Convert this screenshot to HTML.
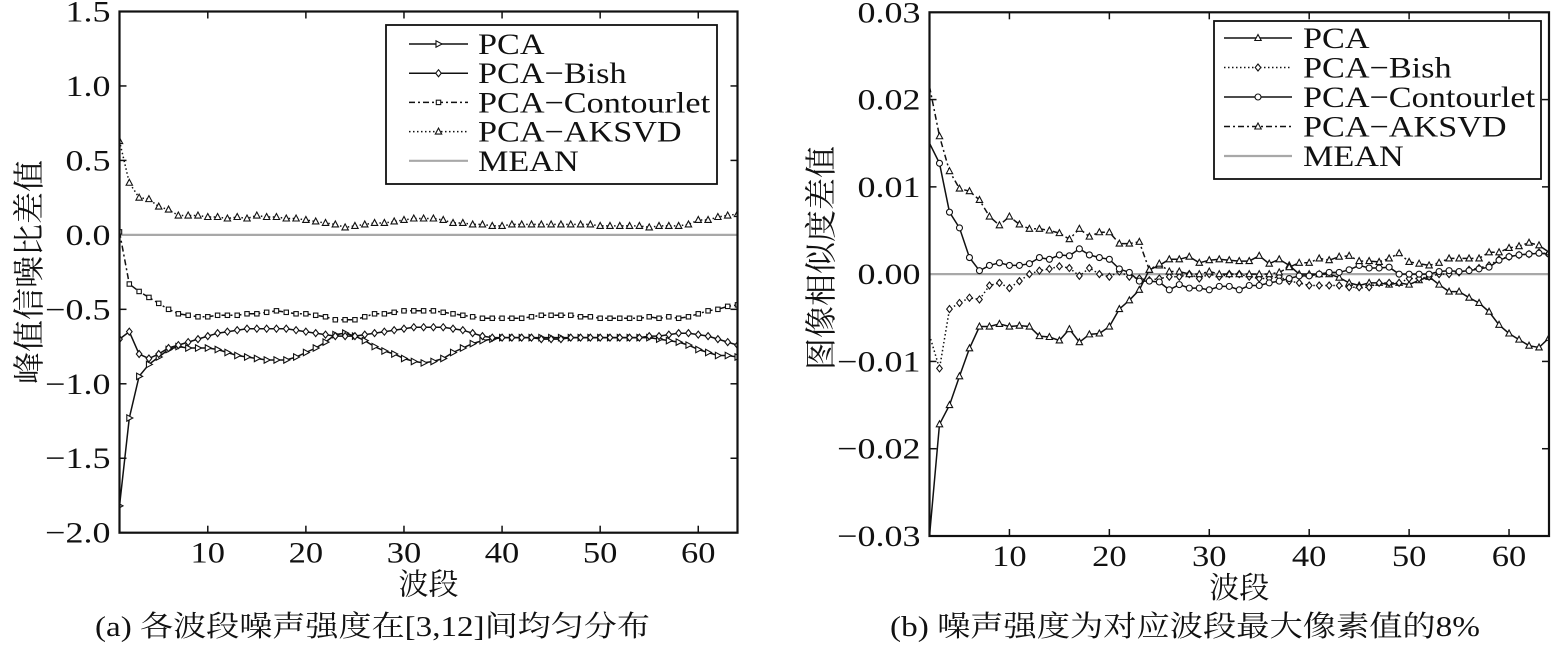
<!DOCTYPE html>
<html><head><meta charset="utf-8">
<style>
html,body{margin:0;padding:0;background:#fff;}
svg{display:block;}
text{font-family:"Liberation Serif","Noto Serif CJK SC",serif;fill:#111;}
</style></head>
<body>
<svg id="fig" width="1551" height="645" viewBox="0 0 1551 645" xmlns="http://www.w3.org/2000/svg"></svg>
<script>
// ---------- Chart (a) data ----------
const bandStartA = 1;
const yTicksA = [1.5, 1.0, 0.5, 0.0, -0.5, -1.0, -1.5, -2.0];
const yTickLabelsA = ["1.5","1.0","0.5","0.0","\u22120.5","\u22121.0","\u22121.5","\u22122.0"];
const xTicksA = [10,20,30,40,50,60];
const pcaA = [-1.82,-1.23,-0.95,-0.87,-0.82,-0.77,-0.75,-0.76,-0.76,-0.76,-0.77,-0.79,-0.81,-0.82,-0.83,-0.84,-0.84,-0.84,-0.82,-0.79,-0.76,-0.72,-0.67,-0.66,-0.68,-0.71,-0.75,-0.78,-0.80,-0.83,-0.85,-0.86,-0.85,-0.83,-0.79,-0.76,-0.73,-0.71,-0.70,-0.69,-0.69,-0.69,-0.69,-0.69,-0.69,-0.69,-0.69,-0.69,-0.69,-0.69,-0.69,-0.69,-0.69,-0.69,-0.69,-0.70,-0.71,-0.72,-0.74,-0.77,-0.79,-0.81,-0.81,-0.82];
const bishA = [-0.70,-0.65,-0.80,-0.83,-0.80,-0.76,-0.74,-0.72,-0.70,-0.68,-0.66,-0.65,-0.64,-0.63,-0.63,-0.63,-0.63,-0.63,-0.64,-0.65,-0.66,-0.67,-0.68,-0.68,-0.68,-0.67,-0.66,-0.65,-0.64,-0.63,-0.62,-0.62,-0.62,-0.62,-0.63,-0.64,-0.66,-0.68,-0.69,-0.69,-0.69,-0.69,-0.69,-0.70,-0.70,-0.70,-0.69,-0.69,-0.69,-0.69,-0.69,-0.69,-0.69,-0.69,-0.68,-0.68,-0.67,-0.66,-0.66,-0.67,-0.68,-0.70,-0.72,-0.74];
const contA = [0.02,-0.33,-0.38,-0.42,-0.46,-0.50,-0.53,-0.54,-0.55,-0.55,-0.54,-0.54,-0.54,-0.53,-0.53,-0.52,-0.51,-0.52,-0.53,-0.53,-0.54,-0.55,-0.57,-0.57,-0.57,-0.55,-0.53,-0.53,-0.52,-0.51,-0.51,-0.51,-0.51,-0.52,-0.53,-0.54,-0.55,-0.56,-0.56,-0.56,-0.56,-0.56,-0.55,-0.54,-0.54,-0.54,-0.54,-0.55,-0.55,-0.56,-0.56,-0.56,-0.56,-0.56,-0.55,-0.56,-0.55,-0.56,-0.55,-0.53,-0.51,-0.50,-0.48,-0.47];
const aksvdA = [0.63,0.35,0.25,0.24,0.19,0.17,0.13,0.13,0.13,0.12,0.12,0.11,0.12,0.11,0.13,0.12,0.12,0.11,0.11,0.10,0.09,0.08,0.07,0.05,0.06,0.07,0.08,0.08,0.09,0.10,0.11,0.11,0.11,0.10,0.08,0.08,0.07,0.07,0.06,0.06,0.07,0.07,0.07,0.07,0.07,0.07,0.07,0.07,0.07,0.06,0.06,0.06,0.06,0.06,0.05,0.06,0.06,0.06,0.07,0.10,0.10,0.12,0.13,0.14];
const meanA = 0.0;

// ---------- Chart (b) data ----------
const bandStartB = 2;
const yTicksB = [0.03,0.02,0.01,0.0,-0.01,-0.02,-0.03];
const yTickLabelsB = ["0.03","0.02","0.01","0.00","\u22120.01","\u22120.02","\u22120.03"];
const xTicksB = [10,20,30,40,50,60];
const pcaB = [-0.030,-0.0172,-0.0150,-0.0117,-0.0085,-0.0060,-0.0060,-0.0057,-0.0060,-0.0059,-0.0060,-0.0071,-0.0072,-0.0076,-0.0063,-0.0078,-0.0069,-0.0068,-0.0060,-0.0040,-0.0030,-0.0018,0.0005,0.0010,0.0017,0.0017,0.0020,0.0013,0.0016,0.0017,0.0016,0.0015,0.0015,0.0021,0.0012,0.0017,0.0010,0.0000,0.0000,0.0000,0.0000,-0.0004,-0.0010,-0.0013,-0.0010,-0.0010,-0.0012,-0.0010,-0.0012,-0.0007,-0.0003,-0.0012,-0.0020,-0.0020,-0.0027,-0.0033,-0.0043,-0.0058,-0.0068,-0.0075,-0.0082,-0.0084,-0.0073];
const bishB = [-0.0070,-0.0108,-0.0040,-0.0033,-0.0027,-0.0029,-0.0013,-0.0010,-0.0016,-0.0008,0.0000,0.0004,0.0006,0.0009,0.0007,-0.0002,0.0007,0.0000,-0.0003,0.0003,-0.0003,-0.0005,-0.0007,-0.0005,-0.0003,-0.0003,0.0000,-0.0005,0.0000,-0.0003,0.0000,0.0000,-0.0003,-0.0005,-0.0005,-0.0003,-0.0008,-0.0010,-0.0013,-0.0013,-0.0013,-0.0013,-0.0015,-0.0015,-0.0015,-0.0010,-0.0010,-0.0010,-0.0005,-0.0005,-0.0003,0.0000,0.0000,0.0002,0.0005,0.0007,0.0010,0.0017,0.0020,0.0022,0.0023,0.0025,0.0023];
const contB = [0.0150,0.0127,0.0071,0.0053,0.0019,0.0004,0.0010,0.0013,0.0010,0.0010,0.0012,0.0019,0.0017,0.0022,0.0021,0.0029,0.0022,0.0019,0.0017,0.0006,0.0002,-0.0008,-0.0008,-0.0009,-0.0018,-0.0012,-0.0016,-0.0016,-0.0018,-0.0014,-0.0014,-0.0018,-0.0013,-0.0013,-0.0010,-0.0008,-0.0005,-0.0002,-0.0002,0.0000,0.0002,0.0002,0.0005,0.0010,0.0007,0.0007,0.0008,0.0000,0.0000,0.0000,0.0000,0.0003,0.0004,0.0003,0.0004,0.0006,0.0008,0.0016,0.0020,0.0022,0.0023,0.0024,0.0023];
const aksvdB = [0.0215,0.0158,0.0118,0.0098,0.0095,0.0085,0.0066,0.0056,0.0066,0.0057,0.0052,0.0052,0.0050,0.0047,0.0040,0.0052,0.0043,0.0048,0.0048,0.0035,0.0035,0.0037,0.0005,0.0012,0.0003,0.0003,0.0000,0.0000,0.0003,0.0000,0.0000,0.0000,0.0000,0.0000,0.0000,0.0002,0.0008,0.0013,0.0013,0.0018,0.0016,0.0020,0.0021,0.0015,0.0015,0.0014,0.0018,0.0024,0.0014,0.0012,0.0010,0.0013,0.0018,0.0018,0.0018,0.0018,0.0025,0.0025,0.0030,0.0032,0.0036,0.0033,0.0025];
const meanB = 0.0;

const NS = "http://www.w3.org/2000/svg";
const svg = document.getElementById('fig');
function mk(tag, attrs, parent){
  const e = document.createElementNS(NS, tag);
  for (const k in attrs) e.setAttribute(k, attrs[k]);
  (parent||svg).appendChild(e);
  return e;
}
function stretch(t, f){
  const w = t.getComputedTextLength();
  if (w > 0){
    t.setAttribute('textLength', (w*f).toFixed(1));
    t.setAttribute('lengthAdjust', 'spacingAndGlyphs');
  }
}

function marker(g, type, x, y){
  let m;
  const st = {fill:'#fff', stroke:'#111', 'stroke-width':1.1};
  if (type==='tri') m = mk('polygon', Object.assign({points:`${x},${y-3.5} ${x-3.2},${y+2.5} ${x+3.2},${y+2.5}`}, st), g);
  else if (type==='rtri') m = mk('polygon', Object.assign({points:`${x+3.5},${y} ${x-2.5},${y-3.2} ${x-2.5},${y+3.2}`}, st), g);
  else if (type==='dia') m = mk('polygon', Object.assign({points:`${x},${y-3.5} ${x+2.8},${y} ${x},${y+3.5} ${x-2.8},${y}`}, st), g);
  else if (type==='sq') m = mk('rect', Object.assign({x:x-2.2,y:y-2.2,width:4.4,height:4.4}, st), g);
  else if (type==='circ') m = mk('circle', Object.assign({cx:x,cy:y,r:3}, st), g);
  
  
}

function drawChart(cfg){
  const {L,R,T,B,xmin,xmax,ymin,ymax} = cfg;
  const sx = v => L + (v - xmin)/(xmax - xmin)*(R - L);
  const sy = v => B - (v - ymin)/(ymax - ymin)*(B - T);
  const g = mk('g', {});
  
  
  const cp = mk('clipPath', {id: cfg.name+'-clip'}, g);
  mk('rect', {x:L, y:T, width:R-L, height:B-T}, cp);
  cfg.yTicks.forEach((v,i)=>{
    const y = sy(v);
    const t1 = mk('line',{x1:L,y1:y,x2:L+7,y2:y,stroke:'#111','stroke-width':1.5},g);
    
    
    mk('line',{x1:R,y1:y,x2:R-7,y2:y,stroke:'#111','stroke-width':1.5},g);
    const tx = mk('text',{x:L-9,y:y+10,'text-anchor':'end','font-size':30},g);
    tx.textContent = cfg.yLabels[i];
    
    
    stretch(tx, 1.2);
  });
  cfg.xTicks.forEach(v=>{
    const x = sx(v);
    const t1 = mk('line',{x1:x,y1:B,x2:x,y2:B-7,stroke:'#111','stroke-width':1.5},g);
    
    
    mk('line',{x1:x,y1:T,x2:x,y2:T+7,stroke:'#111','stroke-width':1.5},g);
    const tx = mk('text',{x:x,y:B+30,'text-anchor':'middle','font-size':30},g);
    tx.textContent = String(v);
    
    
    stretch(tx, 1.15);
  });
  const plot = mk('g',{'clip-path':`url(#${cfg.name}-clip)`},g);
  const ml = mk('line',{x1:L,x2:R,y1:sy(cfg.mean),y2:sy(cfg.mean),stroke:'#a8a8a8','stroke-width':2.2},plot);
  
  
  cfg.series.forEach(s=>{
    const sg = mk('g',{},plot);
    
    
    const pts = s.data.map((v,i)=>`${sx(cfg.start+i).toFixed(1)},${sy(v).toFixed(1)}`).join(' ');
    const pl = mk('polyline',{points:pts,fill:'none',stroke:'#111','stroke-width':1.5,'stroke-dasharray':s.dash||'none'},sg);
    
    
    s.data.forEach((v,i)=>{ if (!(s.skipFirst && i===0)) marker(sg, s.mk, sx(cfg.start+i), sy(v)); });
  });
  const fr = mk('rect',{x:L,y:T,width:R-L,height:B-T,fill:'none',stroke:'#111','stroke-width':2.2},g);
  
  
  const lg = cfg.legend;
  const lgG = mk('g',{},g);
  
  
  mk('rect',{x:lg.x,y:lg.y,width:lg.w,height:lg.h,fill:'#fff',stroke:'#111','stroke-width':1.8},lgG);
  cfg.series.concat([{key:'mean',label:'MEAN',mean:true}]).forEach((s,i)=>{
    const y = lg.y0 + i*lg.dy;
    const eg = mk('g',{},lgG);
    
    
    if (s.mean) mk('line',{x1:lg.lx1,x2:lg.lx2,y1:y,y2:y,stroke:'#a8a8a8','stroke-width':2.2},eg);
    else {
      mk('line',{x1:lg.lx1,x2:lg.lx2,y1:y,y2:y,stroke:'#111','stroke-width':1.5,'stroke-dasharray':s.dash||'none'},eg);
      marker(eg, s.mk, (lg.lx1+lg.lx2)/2, y);
    }
    const t = mk('text',{x:lg.tx,y:y+10,'font-size':30},eg);
    t.textContent = s.label;
    stretch(t, 1.14);
  });
  const xt = mk('text',{x:(L+R)/2,y:B+62,'text-anchor':'middle','font-size':30},g);
  xt.textContent = '波段';
  
  
  const yt = mk('text',{x:0,y:0,'text-anchor':'middle','font-size':32,transform:`translate(${cfg.ytx},${cfg.yty}) rotate(-90)`},g);
  yt.textContent = cfg.ytitle;
  
  
  const cap = mk('text',{x:cfg.capx,y:636,'font-size':29},g);
  cap.textContent = cfg.caption;
  
  
  const cw = cap.getComputedTextLength();
  if (cw > 0){ cap.setAttribute('textLength', cfg.capw); cap.setAttribute('lengthAdjust','spacingAndGlyphs'); }
}

drawChart({
  name:'chart-a', L:119.5, R:737.5, T:11.5, B:532.7, xmin:1, xmax:64, ymin:-2.0, ymax:1.5,
  start:bandStartA, yTicks:yTicksA, yLabels:yTickLabelsA, xTicks:xTicksA, mean:meanA,
  series:[
    {key:'pca', label:'PCA', data:pcaA, mk:'rtri'},
    {key:'pca-bish', label:'PCA\u2212Bish', data:bishA, mk:'dia'},
    {key:'pca-contourlet', label:'PCA\u2212Contourlet', data:contA, mk:'sq', dash:'6,3,2,3'},
    {key:'pca-aksvd', label:'PCA\u2212AKSVD', data:aksvdA, mk:'tri', dash:'1.5,2.5'}
  ],
  legend:{x:386,y:25,w:331,h:159,y0:44,dy:29.2,lx1:409,lx2:468,tx:478},
  ytx:40, yty:272, ytitle:'峰值信噪比差值',
  capx:95, capw:555, caption:'(a) 各波段噪声强度在[3,12]间均匀分布'
});
drawChart({
  name:'chart-b', L:929.5, R:1549, T:12.3, B:536, xmin:2, xmax:64, ymin:-0.03, ymax:0.03,
  start:bandStartB, yTicks:yTicksB, yLabels:yTickLabelsB, xTicks:xTicksB, mean:meanB,
  series:[
    {key:'pca', label:'PCA', data:pcaB, mk:'tri', skipFirst:true},
    {key:'pca-bish', label:'PCA\u2212Bish', data:bishB, mk:'dia', dash:'1.5,2.5', skipFirst:true},
    {key:'pca-contourlet', label:'PCA\u2212Contourlet', data:contB, mk:'circ', skipFirst:true},
    {key:'pca-aksvd', label:'PCA\u2212AKSVD', data:aksvdB, mk:'tri', dash:'6,3,2,3', skipFirst:true}
  ],
  legend:{x:1214,y:21,w:327,h:158,y0:38,dy:29.5,lx1:1224,lx2:1292,tx:1303},
  ytx:832, yty:258, ytitle:'图像相似度差值',
  capx:890, capw:590, caption:'(b) 噪声强度为对应波段最大像素值的8%'
});
</script>
</body></html>
